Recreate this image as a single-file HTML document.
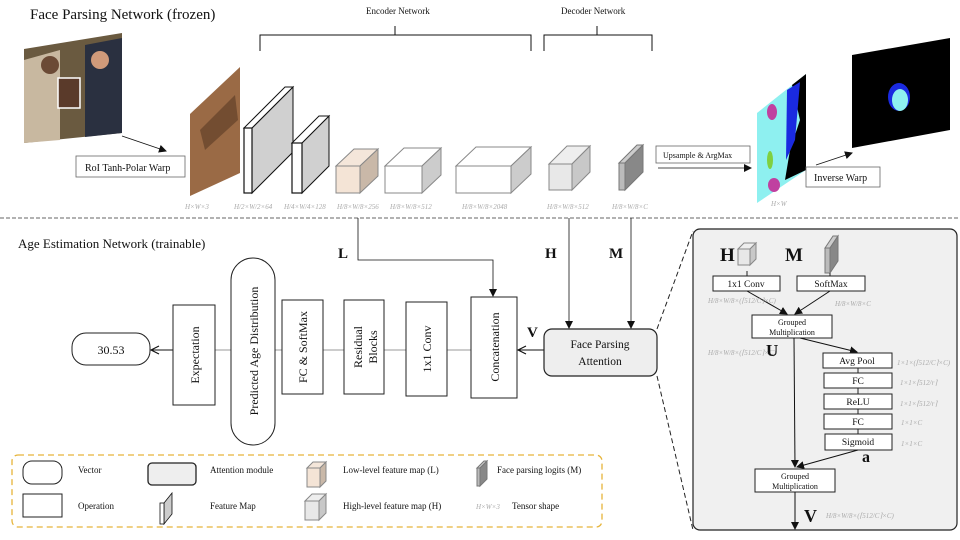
<!DOCTYPE html>
<html><head><meta charset="utf-8"><style>
html,body{margin:0;padding:0;background:#fff}
svg{display:block}
text{font-family:"Liberation Serif",serif;fill:#111}
.s{font-size:7px;fill:#aaa;font-style:italic}
.b{font-weight:bold}
</style></head><body>
<svg width="960" height="540" viewBox="0 0 960 540" xmlns="http://www.w3.org/2000/svg">
<defs>
<marker id="ar" markerWidth="8" markerHeight="8" refX="7" refY="4" orient="auto" markerUnits="userSpaceOnUse"><path d="M0,0 L8,4 L0,8 Z" fill="#111"/></marker>
<marker id="ao" markerWidth="10" markerHeight="10" refX="9" refY="5" orient="auto" markerUnits="userSpaceOnUse"><path d="M1,1 L9,5 L1,9" fill="none" stroke="#111" stroke-width="1.2"/></marker>
</defs>
<text x="30" y="19" font-size="15">Face Parsing Network (frozen)</text>
<!-- photo -->
<polygon points="24,49 122,33 122,133 24,143" fill="#6a5a40"/>
<polygon points="24,60 60,50 60,140 24,143" fill="#c8b8a0"/>
<polygon points="85,45 122,38 122,133 85,137" fill="#2a3040"/>
<circle cx="100" cy="60" r="9" fill="#d09a7a"/>
<circle cx="50" cy="65" r="9" fill="#6b4a35"/>
<rect x="58" y="78" width="22" height="30" fill="#5a3a2a" stroke="#fff" stroke-width="1.5"/>
<line x1="122" y1="136" x2="166" y2="151" stroke="#111" stroke-width="0.8" marker-end="url(#ar)"/>
<rect x="76" y="156" width="109" height="21" fill="#fff" stroke="#666" stroke-width="0.8"/>
<text x="85" y="171" font-size="10">RoI Tanh-Polar Warp</text>
<polygon points="190,114 240,67 240,173 190,196" fill="#9a6a45"/>
<polygon points="200,130 235,95 238,120 205,150" fill="#5a3a25" opacity="0.6"/>
<!-- feature maps -->
<polygon points="252,128 293,87 293,152 252,193" fill="#d0d0d0" stroke="#111" stroke-width="1"/>
<polygon points="244,128 252,128 293,87 285,87" fill="#fff" stroke="#111" stroke-width="1"/>
<rect x="244" y="128" width="8" height="65" fill="#fff" stroke="#111" stroke-width="1.2"/>
<polygon points="302,143 329,116 329,166 302,193" fill="#d0d0d0" stroke="#111" stroke-width="1"/>
<polygon points="292,143 302,143 329,116 319,116" fill="#fff" stroke="#111" stroke-width="1"/>
<rect x="292" y="143" width="10" height="50" fill="#fff" stroke="#111" stroke-width="1.2"/>
<!-- L cube -->
<polygon points="336,166 354,149 378,149 360,166" fill="#f4e6da" stroke="#888"/>
<polygon points="360,166 378,149 378,176 360,193" fill="#c9b8a8" stroke="#888"/>
<rect x="336" y="166" width="24" height="27" fill="#f4e4d6" stroke="#888"/>
<polygon points="385,166 404,148 441,148 422,166" fill="#fff" stroke="#888"/>
<polygon points="422,166 441,148 441,175 422,193" fill="#ccc" stroke="#888"/>
<rect x="385" y="166" width="37" height="27" fill="#fff" stroke="#888"/>
<polygon points="456,166 476,147 531,147 511,166" fill="#fff" stroke="#888"/>
<polygon points="511,166 531,147 531,174 511,193" fill="#ccc" stroke="#888"/>
<rect x="456" y="166" width="55" height="27" fill="#fff" stroke="#888"/>
<polygon points="549,164 567,146 590,146 572,164" fill="#eee" stroke="#888"/>
<polygon points="572,164 590,146 590,172 572,190" fill="#c8c8c8" stroke="#888"/>
<rect x="549" y="164" width="23" height="26" fill="#e8e8e8" stroke="#888"/>
<polygon points="619,163 637,145 643,145 625,163" fill="#ccc" stroke="#777"/>
<polygon points="625,163 643,145 643,172 625,190" fill="#888" stroke="#777"/>
<rect x="619" y="163" width="6" height="27" fill="#bbb" stroke="#777"/>
<!-- brackets -->
<text x="366" y="14" font-size="9">Encoder Network</text>
<line x1="395" y1="26" x2="395" y2="35" stroke="#111"/>
<polyline points="260,51 260,35 531,35 531,51" fill="none" stroke="#111"/>
<text x="561" y="14" font-size="9">Decoder Network</text>
<line x1="597" y1="26" x2="597" y2="35" stroke="#111"/>
<polyline points="544,51 544,35 652,35 652,51" fill="none" stroke="#111"/>
<!-- shape labels -->
<text class="s" x="185" y="209">H×W×3</text>
<text class="s" x="234" y="209">H/2×W/2×64</text>
<text class="s" x="284" y="209">H/4×W/4×128</text>
<text class="s" x="337" y="209">H/8×W/8×256</text>
<text class="s" x="390" y="209">H/8×W/8×512</text>
<text class="s" x="462" y="209">H/8×W/8×2048</text>
<text class="s" x="547" y="209">H/8×W/8×512</text>
<text class="s" x="612" y="209">H/8×W/8×C</text>
<text class="s" x="771" y="206">H×W</text>
<!-- upsample -->
<rect x="656" y="146" width="94" height="17" fill="#fff" stroke="#666" stroke-width="0.8"/>
<text x="663" y="158" font-size="8">Upsample &amp; ArgMax</text>
<line x1="658" y1="168" x2="751" y2="168" stroke="#111" stroke-width="0.8" marker-end="url(#ar)"/>
<polygon points="757,113 806,74 806,170 757,203" fill="#8ef0f0"/>
<polygon points="792,85 806,74 806,170 785,180 790,150 800,120" fill="#000"/>
<polygon points="787,90 800,82 795,140 786,160" fill="#1a2ae0"/>
<ellipse cx="772" cy="112" rx="5" ry="8" fill="#c040a0"/>
<ellipse cx="774" cy="185" rx="6" ry="7" fill="#c040a0"/>
<ellipse cx="770" cy="160" rx="3" ry="9" fill="#80d040"/>
<line x1="816" y1="165" x2="852" y2="153" stroke="#111" stroke-width="0.8" marker-end="url(#ar)"/>
<rect x="806" y="167" width="74" height="20" fill="#fff" stroke="#666" stroke-width="0.8"/>
<text x="814" y="181" font-size="10">Inverse Warp</text>
<polygon points="852,55 950,38 950,130 852,148" fill="#000"/>
<ellipse cx="899" cy="97" rx="11" ry="14" fill="#1a2ae0"/>
<ellipse cx="900" cy="100" rx="8" ry="11" fill="#8ef0f0"/>
<!-- divider -->
<line x1="0" y1="218" x2="960" y2="218" stroke="#333" stroke-dasharray="4,2" stroke-width="0.8"/>
<!-- age estimation -->
<text x="18" y="248" font-size="13">Age Estimation Network (trainable)</text>
<text x="338" y="258" font-size="15" class="b">L</text>
<polyline points="358,218 358,260 493,260 493,296" fill="none" stroke="#111" stroke-width="0.8" marker-end="url(#ar)"/>
<text x="545" y="258" font-size="15" class="b">H</text>
<line x1="569" y1="218" x2="569" y2="328" stroke="#111" stroke-width="0.8" marker-end="url(#ar)"/>
<text x="609" y="258" font-size="15" class="b">M</text>
<line x1="631" y1="218" x2="631" y2="328" stroke="#111" stroke-width="0.8" marker-end="url(#ar)"/>
<line x1="150" y1="350" x2="544" y2="350" stroke="#999" stroke-width="1"/>
<line x1="544" y1="350" x2="518" y2="350" stroke="#111" stroke-width="1" marker-end="url(#ao)"/>
<line x1="173" y1="350" x2="151" y2="350" stroke="#111" stroke-width="1" marker-end="url(#ao)"/>
<rect x="544" y="329" width="113" height="47" rx="8" fill="#eee" stroke="#222" stroke-width="1.2"/>
<text x="600" y="348" font-size="11.5" text-anchor="middle">Face Parsing</text>
<text x="600" y="365" font-size="11.5" text-anchor="middle">Attention</text>
<text x="527" y="337" font-size="15" class="b">V</text>
<rect x="471" y="297" width="46" height="101" fill="#fff" stroke="#222"/>
<text transform="translate(499,347) rotate(-90)" font-size="12" text-anchor="middle">Concatenation</text>
<rect x="406" y="302" width="41" height="94" fill="#fff" stroke="#222"/>
<text transform="translate(431,349) rotate(-90)" font-size="12" text-anchor="middle">1x1 Conv</text>
<rect x="344" y="300" width="40" height="94" fill="#fff" stroke="#222"/>
<text transform="translate(362,347) rotate(-90)" font-size="12" text-anchor="middle">Residual</text>
<text transform="translate(377,347) rotate(-90)" font-size="12" text-anchor="middle">Blocks</text>
<rect x="282" y="300" width="41" height="94" fill="#fff" stroke="#222"/>
<text transform="translate(307,347) rotate(-90)" font-size="12" text-anchor="middle">FC &amp; SoftMax</text>
<rect x="231" y="258" width="44" height="187" rx="22" fill="#fff" stroke="#222"/>
<text transform="translate(258,351) rotate(-90)" font-size="12" text-anchor="middle">Predicted Age Distribution</text>
<rect x="173" y="305" width="42" height="100" fill="#fff" stroke="#222"/>
<text transform="translate(199,355) rotate(-90)" font-size="12" text-anchor="middle">Expectation</text>
<rect x="72" y="333" width="78" height="32" rx="14" fill="#fff" stroke="#222"/>
<text x="111" y="354" font-size="12" text-anchor="middle">30.53</text>
<!-- legend -->
<rect x="12" y="455" width="590" height="72" rx="6" fill="none" stroke="#e6b43a" stroke-dasharray="6,4" stroke-width="1.3"/>
<rect x="23" y="461" width="39" height="23" rx="9" fill="#fff" stroke="#222"/>
<text x="78" y="473" font-size="9">Vector</text>
<rect x="148" y="463" width="48" height="22" rx="4" fill="#eee" stroke="#222" stroke-width="1.3"/>
<text x="210" y="473" font-size="9">Attention module</text>
<polygon points="307,468 313,462 326,462 320,468" fill="#f4e6da" stroke="#888"/>
<polygon points="320,468 326,462 326,481 320,487" fill="#c9b8a8" stroke="#888"/>
<rect x="307" y="468" width="13" height="19" fill="#f4e4d6" stroke="#888"/>
<text x="343" y="473" font-size="9">Low-level feature map (L)</text>
<polygon points="477,468 484,461 487,461 480,468" fill="#ccc" stroke="#777"/>
<polygon points="480,468 487,461 487,479 480,486" fill="#888" stroke="#777"/>
<rect x="477" y="468" width="3" height="18" fill="#bbb" stroke="#777"/>
<text x="497" y="473" font-size="9">Face parsing logits (M)</text>
<rect x="23" y="494" width="39" height="23" fill="#fff" stroke="#222"/>
<text x="78" y="509" font-size="9">Operation</text>
<polygon points="164,503 172,493 172,514 164,524" fill="#ccc" stroke="#111" stroke-width="0.8"/>
<rect x="160" y="503" width="4" height="21" fill="#fff" stroke="#111" stroke-width="0.8"/>
<text x="210" y="509" font-size="9">Feature Map</text>
<polygon points="305,501 312,494 326,494 319,501" fill="#eee" stroke="#888"/>
<polygon points="319,501 326,494 326,513 319,520" fill="#c8c8c8" stroke="#888"/>
<rect x="305" y="501" width="14" height="19" fill="#e8e8e8" stroke="#888"/>
<text x="343" y="509" font-size="9">High-level feature map (H)</text>
<text class="s" x="476" y="509">H×W×3</text>
<text x="512" y="509" font-size="9">Tensor shape</text>
<!-- right panel -->
<line x1="657" y1="329" x2="693" y2="231" stroke="#222" stroke-dasharray="5,3"/>
<line x1="657" y1="376" x2="693" y2="530" stroke="#222" stroke-dasharray="5,3"/>
<rect x="693" y="229" width="264" height="301" rx="7" fill="#f0f0f0" stroke="#222" stroke-width="1.2"/>
<text x="720" y="261" font-size="19" class="b">H</text>
<polygon points="738,249 744,243 756,243 750,249" fill="#eee" stroke="#888"/>
<polygon points="750,249 756,243 756,259 750,265" fill="#c8c8c8" stroke="#888"/>
<rect x="738" y="249" width="12" height="16" fill="#e8e8e8" stroke="#888"/>
<text x="785" y="261" font-size="19" class="b">M</text>
<polygon points="825,248 833,236 838,236 830,248" fill="#ccc" stroke="#777"/>
<polygon points="830,248 838,236 838,261 830,273" fill="#888" stroke="#777"/>
<rect x="825" y="248" width="5" height="25" fill="#bbb" stroke="#777"/>
<line x1="747" y1="271" x2="747" y2="276" stroke="#222"/>
<line x1="830" y1="273" x2="830" y2="276" stroke="#222"/>
<rect x="713" y="276" width="67" height="15" fill="#fff" stroke="#222"/>
<text x="746" y="287" font-size="9.5" text-anchor="middle">1x1 Conv</text>
<rect x="797" y="276" width="68" height="15" fill="#fff" stroke="#222"/>
<text x="831" y="287" font-size="9.5" text-anchor="middle">SoftMax</text>
<line x1="747" y1="291" x2="787" y2="314" stroke="#111" marker-end="url(#ar)"/>
<line x1="830" y1="291" x2="795" y2="314" stroke="#111" marker-end="url(#ar)"/>
<text class="s" x="708" y="303" font-size="6">H/8×W/8×(⌈512/C⌉×C)</text>
<text class="s" x="835" y="306">H/8×W/8×C</text>
<rect x="752" y="315" width="80" height="23" fill="#fff" stroke="#222"/>
<text x="792" y="325" font-size="8" text-anchor="middle">Grouped</text>
<text x="792" y="335" font-size="8" text-anchor="middle">Multiplication</text>
<text class="s" x="708" y="355" font-size="6">H/8×W/8×(⌈512/C⌉×C)</text>
<text x="766" y="356" font-size="17" class="b">U</text>
<line x1="794" y1="338" x2="795" y2="467" stroke="#111" marker-end="url(#ar)"/>
<line x1="800" y1="338" x2="857" y2="352" stroke="#111" marker-end="url(#ar)"/>
<line x1="858" y1="368" x2="858" y2="434" stroke="#222"/>
<rect x="823" y="353" width="69" height="15" fill="#fff" stroke="#222"/>
<text x="857" y="364" font-size="9.5" text-anchor="middle">Avg Pool</text>
<rect x="824" y="373" width="68" height="15" fill="#fff" stroke="#222"/>
<text x="858" y="384" font-size="9.5" text-anchor="middle">FC</text>
<rect x="824" y="394" width="68" height="15" fill="#fff" stroke="#222"/>
<text x="858" y="405" font-size="9.5" text-anchor="middle">ReLU</text>
<rect x="824" y="414" width="68" height="15" fill="#fff" stroke="#222"/>
<text x="858" y="425" font-size="9.5" text-anchor="middle">FC</text>
<rect x="825" y="434" width="67" height="16" fill="#fff" stroke="#222"/>
<text x="858" y="445" font-size="9.5" text-anchor="middle">Sigmoid</text>
<text class="s" x="897" y="365" font-size="6.5">1×1×(⌈512/C⌉×C)</text>
<text class="s" x="900" y="385">1×1×⌈512/r⌉</text>
<text class="s" x="900" y="406">1×1×⌈512/r⌉</text>
<text class="s" x="901" y="425">1×1×C</text>
<text class="s" x="901" y="446">1×1×C</text>
<text x="862" y="462" font-size="16" class="b">a</text>
<line x1="858" y1="450" x2="797" y2="467" stroke="#111" marker-end="url(#ar)"/>
<rect x="755" y="469" width="80" height="23" fill="#fff" stroke="#222"/>
<text x="795" y="479" font-size="8" text-anchor="middle">Grouped</text>
<text x="795" y="489" font-size="8" text-anchor="middle">Multiplication</text>
<line x1="795" y1="492" x2="795" y2="529" stroke="#111" marker-end="url(#ar)"/>
<text x="804" y="522" font-size="18" class="b">V</text>
<text class="s" x="826" y="518" font-size="6">H/8×W/8×(⌈512/C⌉×C)</text>
</svg>
</body></html>
